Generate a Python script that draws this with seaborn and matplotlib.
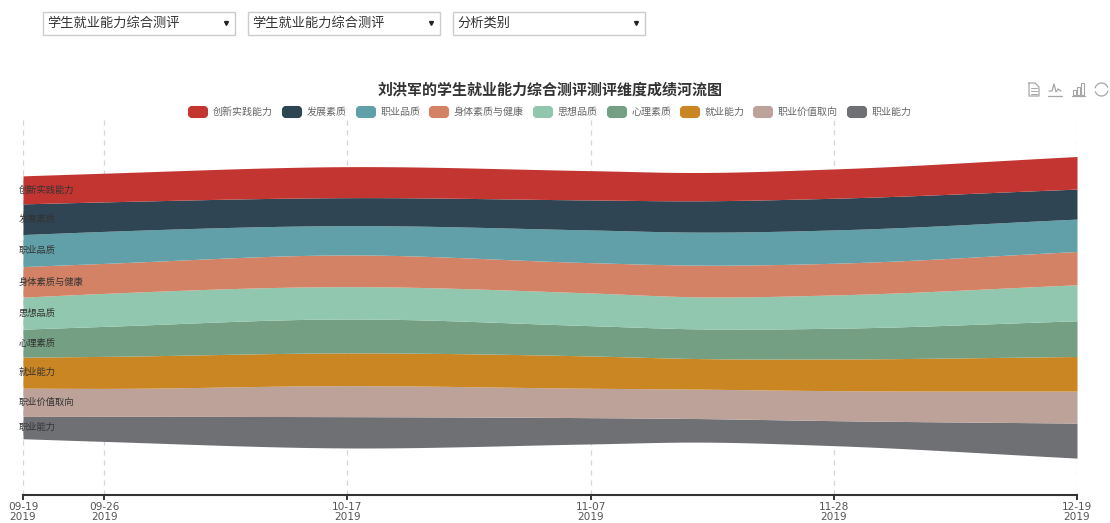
#!/usr/bin/env python3
# -*- coding: utf-8 -*-
import matplotlib
matplotlib.use('Agg')
import matplotlib.pyplot as plt
import matplotlib.dates as mdates
from matplotlib.patches import FancyBboxPatch, Rectangle
import numpy as np
import pandas as pd
import seaborn as sns

title='刘洪军的学生就业能力综合测评测评维度成绩河流图'
dropdowns=['学生就业能力综合测评','学生就业能力综合测评','分析类别']
categories=['创新实践能力','发展素质','职业品质','身体素质与健康','思想品质','心理素质','就业能力','职业价值取向','职业能力']
colors=['#c23531','#2f4554','#61a0a8','#d48265','#91c7ae','#749f83','#ca8622','#bda29a','#6e7074']

# 11-16 has no tick of its own in the chart but the river is narrowest there
dates=['2019-09-19','2019-09-26','2019-10-17','2019-11-07','2019-11-16','2019-11-28','2019-12-19']
tick_dates=['2019-09-19','2019-09-26','2019-10-17','2019-11-07','2019-11-28','2019-12-19']

chuangxin=[28.0,28.7,31.0,29.3,28.3,29.3,32.6]
fazhan=[30.7,29.5,28.0,30.0,31.3,31.7,30.0]
pinzhi=[32.0,32.0,29.3,32.7,33.0,33.3,32.4]
shenti=[30.6,30.0,31.7,30.3,31.7,31.7,33.3]
sixiang=[32.0,33.0,32.3,32.7,32.0,33.3,36.0]
xinli=[28.0,30.0,34.0,30.3,29.7,30.7,35.7]
jiuye=[31.0,32.0,32.7,32.3,30.6,31.7,34.6]
jiazhi=[28.3,28.0,31.0,29.4,29.4,30.0,32.0]
nengli=[22.3,25.0,31.3,26.3,23.6,25.0,35.0]
series=[chuangxin,fazhan,pinzhi,shenti,sixiang,xinli,jiuye,jiazhi,nengli]

W,H=1110,523

def smooth(x,y,xs):
    # Catmull-Rom style cubic so that the bands bend like the river chart does
    x=np.asarray(x,float)
    y=np.asarray(y,float)
    h=np.diff(x)
    d=np.diff(y)/h
    m=np.zeros(len(x))
    for i in range(1,len(x)-1):
        m[i]=(d[i-1]*h[i]+d[i]*h[i-1])/(h[i-1]+h[i])
    m[0]=d[0]
    m[-1]=d[-1]
    idx=np.clip(np.searchsorted(x,xs,side='right')-1,0,len(h)-1)
    t=(xs-x[idx])/h[idx]
    return ((2*t**3-3*t**2+1)*y[idx]+(t**3-2*t**2+t)*h[idx]*m[idx]
            +(-2*t**3+3*t**2)*y[idx+1]+(t**3-t**2)*h[idx]*m[idx+1])

sns.set_theme(style='white')
plt.rcParams['font.family']=['Noto Sans CJK SC','DejaVu Sans']
palette=sns.color_palette(colors)

days=mdates.date2num(pd.to_datetime(dates))
ticks=mdates.date2num(pd.to_datetime(tick_dates))
xs=np.linspace(days[0],days[-1],800)
dense=np.array([smooth(days,s,xs) for s in series])

fig=plt.figure(figsize=(W/100,H/100),dpi=100,facecolor='white')
ax=fig.add_axes([23/W,1-495/H,(1077-23)/W,(495-118)/H])
ax.set_facecolor('none')

# stackplot fills from the bottom up, the first category sits on top
ax.stackplot(xs,dense[::-1],colors=palette[::-1],baseline='sym',linewidth=0,zorder=2)
ax.set_xlim(days[0],days[-1])
ax.set_ylim(-187.7,189.3)

ax.set_xticks(ticks)
ax.set_xticklabels([pd.Timestamp(d).strftime('%m-%d\n%Y') for d in tick_dates],
                   fontsize=7.6,color='#555555',family='DejaVu Sans',linespacing=0.95)
ax.tick_params(axis='x',length=3.6,width=1.4,color='#333333',pad=1.5,bottom=True)
ax.set_yticks([])
ax.grid(axis='x',linestyle=(0,(4,4)),color='#d4d4d4',linewidth=0.9)
ax.set_axisbelow(True)
sns.despine(ax=ax,left=True,top=True,right=True)
ax.spines['bottom'].set_color('#333333')
ax.spines['bottom'].set_linewidth(1.5)

# band names sit at the left end of each band
first=np.array([s[0] for s in series],float)
tops=first.sum()/2-np.concatenate([[0],np.cumsum(first)[:-1]])
for name,top,w in zip(categories,tops,first):
    ax.annotate(name,xy=(days[0],top-w/2),xytext=(-4,0),textcoords='offset pixels',
                fontsize=6.7,color='#333333',va='center',ha='left',zorder=5,annotation_clip=False)

# page furniture in pixel coordinates
over=fig.add_axes([0,0,1,1],zorder=10)
over.set_xlim(0,W)
over.set_ylim(H,0)
over.axis('off')

over.text(550,89,title,fontsize=10.8,fontweight='bold',color='#333333',ha='center',va='center')

box_x=[43,248,453]
for x0,label in zip(box_x,dropdowns):
    over.add_patch(Rectangle((x0,12),192,23,facecolor='white',edgecolor='#cccccc',linewidth=1))
    over.text(x0+4,23.5,label,fontsize=9.5,color='#333333',ha='left',va='center')
    over.plot([x0+183],[22.5],marker='v',markersize=2.8,color='#222222')

swatch_x=[188,282,356,429,533,607,680,753,847]
for x0,name,c in zip(swatch_x,categories,palette):
    over.add_patch(FancyBboxPatch((x0+1,107),18,10,boxstyle='round,pad=0,rounding_size=3',
                                  mutation_aspect=1,facecolor=c,edgecolor=c,linewidth=1.5))
    over.text(x0+24.5,112,name,fontsize=7.2,color='#666666',ha='left',va='center')

# toolbox icons
ic='#a6a6a6'
over.plot([1029,1029,1039,1039,1035,1029],[83,96,96,87,83,83],color=ic,lw=0.9)
for yy in (88,91,93.5):
    over.plot([1031,1037],[yy,yy],color=ic,lw=0.7)
over.plot([1049,1052,1054,1056,1058,1061],[91,91,84,92,89,91],color=ic,lw=0.9)
over.plot([1048,1062],[95.5,95.5],color=ic,lw=0.9)
for x0,top in zip((1073,1077,1081),(90,87,83)):
    over.add_patch(Rectangle((x0,top),2.6,95-top,facecolor='none',edgecolor=ic,linewidth=0.8))
over.plot([1072,1085],[96,96],color=ic,lw=0.9)
ang=np.radians(np.linspace(20,165,40))
over.plot(1101.5+6.5*np.cos(ang),89.5-6.5*np.sin(ang),color=ic,lw=0.9)
over.plot(1101.5+6.5*np.cos(ang+np.pi),89.5-6.5*np.sin(ang+np.pi),color=ic,lw=0.9)

fig.savefig('out.png',dpi=100)
